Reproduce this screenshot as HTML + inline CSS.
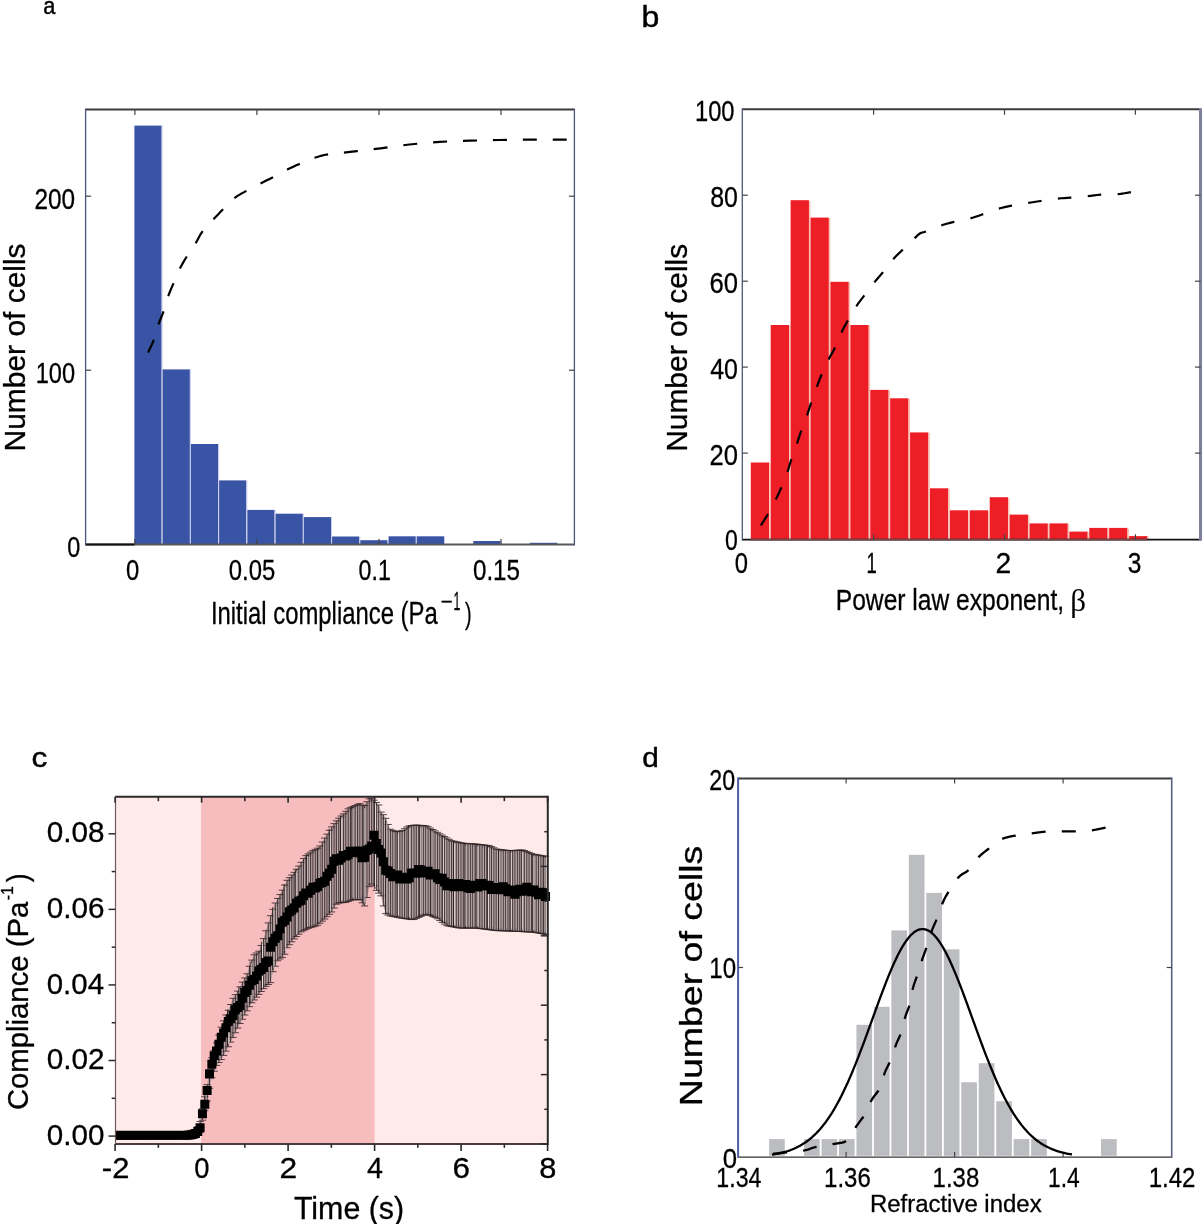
<!DOCTYPE html>
<html><head><meta charset="utf-8"><title>Figure</title>
<style>html,body{margin:0;padding:0;background:#fff;}svg{display:block;will-change:transform;}text{stroke:#000;stroke-width:0.3px;}</style>
</head><body>
<svg width="1202" height="1224" viewBox="0 0 1202 1224">
<text transform="translate(43.18,14.46) scale(0.9185,1)" font-family='"Liberation Sans", sans-serif' font-size="23.72" fill="#000" style="stroke:#000;stroke-width:0.45px">a</text>
<text transform="translate(641.52,26.71) scale(1.1015,1)" font-family='"Liberation Sans", sans-serif' font-size="29.12" fill="#000" style="stroke:#000;stroke-width:0.45px">b</text>
<text transform="translate(31.57,766.73) scale(1.1822,1)" font-family='"Liberation Sans", sans-serif' font-size="26.82" fill="#000" style="stroke:#000;stroke-width:0.45px">c</text>
<text transform="translate(642.15,767.12) scale(1.0472,1)" font-family='"Liberation Sans", sans-serif' font-size="28.44" fill="#000" style="stroke:#000;stroke-width:0.45px">d</text>
<rect x="134.4" y="125.6" width="27.24" height="418.9" fill="#3a54a5"/>
<line x1="162.14" y1="125.6" x2="162.14" y2="544.5" stroke="#c9cdee" stroke-width="1"/>
<rect x="162.64" y="369.4" width="27.24" height="175.1" fill="#3a54a5"/>
<line x1="190.38" y1="369.4" x2="190.38" y2="544.5" stroke="#c9cdee" stroke-width="1"/>
<rect x="190.88" y="444" width="27.24" height="100.5" fill="#3a54a5"/>
<line x1="218.62" y1="444" x2="218.62" y2="544.5" stroke="#c9cdee" stroke-width="1"/>
<rect x="219.12" y="480.4" width="27.24" height="64.1" fill="#3a54a5"/>
<line x1="246.86" y1="480.4" x2="246.86" y2="544.5" stroke="#c9cdee" stroke-width="1"/>
<rect x="247.36" y="509.9" width="27.24" height="34.6" fill="#3a54a5"/>
<line x1="275.1" y1="509.9" x2="275.1" y2="544.5" stroke="#c9cdee" stroke-width="1"/>
<rect x="275.6" y="513.7" width="27.24" height="30.8" fill="#3a54a5"/>
<line x1="303.34" y1="513.7" x2="303.34" y2="544.5" stroke="#c9cdee" stroke-width="1"/>
<rect x="303.84" y="517.1" width="27.24" height="27.4" fill="#3a54a5"/>
<line x1="331.58" y1="517.1" x2="331.58" y2="544.5" stroke="#c9cdee" stroke-width="1"/>
<rect x="332.08" y="536.5" width="27.24" height="8" fill="#3a54a5"/>
<line x1="359.82" y1="536.5" x2="359.82" y2="544.5" stroke="#c9cdee" stroke-width="1"/>
<rect x="360.32" y="540.2" width="27.24" height="4.3" fill="#3a54a5"/>
<line x1="388.06" y1="540.2" x2="388.06" y2="544.5" stroke="#c9cdee" stroke-width="1"/>
<rect x="388.56" y="536.3" width="27.24" height="8.2" fill="#3a54a5"/>
<line x1="416.3" y1="536.3" x2="416.3" y2="544.5" stroke="#c9cdee" stroke-width="1"/>
<rect x="416.8" y="536.3" width="27.24" height="8.2" fill="#3a54a5"/>
<line x1="444.54" y1="536.3" x2="444.54" y2="544.5" stroke="#c9cdee" stroke-width="1"/>
<rect x="473.28" y="541" width="27.24" height="3.5" fill="#3a54a5"/>
<line x1="501.02" y1="541" x2="501.02" y2="544.5" stroke="#c9cdee" stroke-width="1"/>
<rect x="529.76" y="542.8" width="27.24" height="1.7" fill="#3a54a5"/>
<line x1="557.5" y1="542.8" x2="557.5" y2="544.5" stroke="#c9cdee" stroke-width="1"/>
<line x1="85.6" y1="109.5" x2="574.4" y2="109.5" stroke="#3c3c3c" stroke-width="2"/>
<line x1="85.6" y1="544.5" x2="574.4" y2="544.5" stroke="#58585e" stroke-width="2"/>
<line x1="85.6" y1="544.5" x2="134.4" y2="544.5" stroke="#111" stroke-width="2"/>
<line x1="85.6" y1="108.5" x2="85.6" y2="545.5" stroke="#4b5680" stroke-width="1.3"/>
<line x1="574.4" y1="108.5" x2="574.4" y2="545.5" stroke="#4b5680" stroke-width="1.3"/>
<line x1="134.9" y1="109.5" x2="134.9" y2="115" stroke="#444" stroke-width="1.2"/>
<line x1="134.9" y1="544.5" x2="134.9" y2="539" stroke="#444" stroke-width="1.2"/>
<line x1="256.9" y1="109.5" x2="256.9" y2="115" stroke="#444" stroke-width="1.2"/>
<line x1="256.9" y1="544.5" x2="256.9" y2="539" stroke="#444" stroke-width="1.2"/>
<line x1="379" y1="109.5" x2="379" y2="115" stroke="#444" stroke-width="1.2"/>
<line x1="379" y1="544.5" x2="379" y2="539" stroke="#444" stroke-width="1.2"/>
<line x1="501" y1="109.5" x2="501" y2="115" stroke="#444" stroke-width="1.2"/>
<line x1="501" y1="544.5" x2="501" y2="539" stroke="#444" stroke-width="1.2"/>
<line x1="85.6" y1="196.2" x2="91.1" y2="196.2" stroke="#444" stroke-width="1.2"/>
<line x1="574.4" y1="196.2" x2="568.9" y2="196.2" stroke="#444" stroke-width="1.2"/>
<line x1="85.6" y1="370.2" x2="91.1" y2="370.2" stroke="#444" stroke-width="1.2"/>
<line x1="574.4" y1="370.2" x2="568.9" y2="370.2" stroke="#444" stroke-width="1.2"/>
<path d="M148 352.4 L149 350.39 L150.43 347.52 L152.02 344.15 L153.5 340.6 L154.8 336.75 L156.08 332.49 L157.33 328.18 L158.6 324.2 L159.88 320.72 L161.17 317.53 L162.45 314.37 L163.7 311 L164.88 307.28 L166.02 303.36 L167.18 299.43 L168.4 295.7 L169.71 292.23 L171.09 288.92 L172.49 285.68 L173.9 282.4 L175.27 279.07 L176.62 275.75 L178.04 272.43 L179.6 269.1 L181.35 265.75 L183.24 262.38 L185.21 259.05 L187.2 255.8 L189.23 252.68 L191.33 249.64 L193.41 246.63 L195.4 243.6 L197.18 240.51 L198.83 237.39 L200.53 234.3 L202.5 231.3 L204.82 228.43 L207.37 225.64 L210.04 222.88 L212.7 220.1 L215.36 217.27 L218.07 214.41 L220.79 211.58 L223.5 208.8 L226.15 206.02 L228.76 203.25 L231.42 200.6 L234.2 198.2 L237.12 196.14 L240.14 194.32 L243.24 192.63 L246.4 190.9 L249.65 189.12 L252.98 187.36 L256.35 185.62 L259.7 183.9 L263 182.22 L266.29 180.59 L269.6 178.93 L273 177.2 L276.55 175.32 L280.22 173.34 L283.85 171.39 L287.3 169.6 L290.43 168.05 L293.34 166.66 L296.28 165.31 L299.5 163.9 L303.15 162.34 L307.08 160.71 L311.04 159.15 L314.8 157.8 L318.06 156.72 L321.04 155.82 L324.22 155.04 L328.1 154.3 L332.77 153.65 L337.98 153.1 L343.73 152.55 L350 151.9 L357.03 151.11 L364.75 150.24 L372.69 149.33 L380.4 148.4 L387.74 147.42 L394.96 146.39 L402.17 145.39 L409.5 144.5 L416.99 143.73 L424.58 143.03 L432.2 142.42 L439.8 141.9 L447.38 141.49 L454.97 141.18 L462.52 140.93 L470 140.7 L477.35 140.48 L484.6 140.3 L491.85 140.14 L499.2 140 L506.51 139.87 L513.79 139.76 L521.33 139.66 L529.4 139.6 L539.1 139.57 L549.94 139.57 L559.83 139.59 L566.7 139.6" fill="none" stroke="#000" stroke-width="2.2" stroke-dasharray="14.00 15.93" stroke-linejoin="round"/>
<text transform="translate(34.48,208.7) scale(0.8220,1)" font-family='"Liberation Sans", sans-serif' font-size="29.66" fill="#000">200</text>
<text transform="translate(35.7,383.3) scale(0.7892,1)" font-family='"Liberation Sans", sans-serif' font-size="29.94" fill="#000">100</text>
<text transform="translate(67.19,557.3) scale(0.7862,1)" font-family='"Liberation Sans", sans-serif' font-size="29.8" fill="#000">0</text>
<text transform="translate(125.97,580.3) scale(0.8041,1)" font-family='"Liberation Sans", sans-serif' font-size="29.66" fill="#000">0</text>
<text transform="translate(228.77,580.3) scale(0.8044,1)" font-family='"Liberation Sans", sans-serif' font-size="29.66" fill="#000">0.05</text>
<text transform="translate(358.6,580.3) scale(0.7820,1)" font-family='"Liberation Sans", sans-serif' font-size="29.66" fill="#000">0.1</text>
<text transform="translate(472.96,580.3) scale(0.8153,1)" font-family='"Liberation Sans", sans-serif' font-size="29.66" fill="#000">0.15</text>
<text transform="translate(210.9,623.5) scale(0.7748,1)" font-family='"Liberation Sans", sans-serif' font-size="30.81" fill="#000">Initial compliance (Pa</text>
<text transform="translate(440.7,608.89) scale(0.9039,1)" font-family='"Liberation Sans", sans-serif' font-size="22.54" fill="#000">−</text>
<text transform="translate(453.47,610.1) scale(0.4780,1)" font-family='"Liberation Sans", sans-serif' font-size="25.73" fill="#000">1</text>
<text transform="translate(464.88,623.54) scale(0.6828,1)" font-family='"Liberation Sans", sans-serif' font-size="29.29" fill="#000">)</text>
<text transform="translate(24.9,451.46) rotate(-90) scale(0.9987,1)" font-family='"Liberation Sans", sans-serif' font-size="30" fill="#000">Number of cells</text>
<rect x="750.8" y="462.5" width="18.31" height="77.2" fill="#ee1e27"/>
<line x1="769.91" y1="463" x2="769.91" y2="539.7" stroke="#f6c4b4" stroke-width="1.4"/>
<rect x="770.71" y="325" width="18.31" height="214.7" fill="#ee1e27"/>
<line x1="789.82" y1="325.5" x2="789.82" y2="539.7" stroke="#f6c4b4" stroke-width="1.4"/>
<rect x="790.62" y="200.2" width="18.31" height="339.5" fill="#ee1e27"/>
<line x1="809.73" y1="200.7" x2="809.73" y2="539.7" stroke="#f6c4b4" stroke-width="1.4"/>
<rect x="810.53" y="217.6" width="18.31" height="322.1" fill="#ee1e27"/>
<line x1="829.64" y1="218.1" x2="829.64" y2="539.7" stroke="#f6c4b4" stroke-width="1.4"/>
<rect x="830.44" y="281.8" width="18.31" height="257.9" fill="#ee1e27"/>
<line x1="849.55" y1="282.3" x2="849.55" y2="539.7" stroke="#f6c4b4" stroke-width="1.4"/>
<rect x="850.35" y="325" width="18.31" height="214.7" fill="#ee1e27"/>
<line x1="869.46" y1="325.5" x2="869.46" y2="539.7" stroke="#f6c4b4" stroke-width="1.4"/>
<rect x="870.26" y="389.9" width="18.31" height="149.8" fill="#ee1e27"/>
<line x1="889.37" y1="390.4" x2="889.37" y2="539.7" stroke="#f6c4b4" stroke-width="1.4"/>
<rect x="890.17" y="398.3" width="18.31" height="141.4" fill="#ee1e27"/>
<line x1="909.28" y1="398.8" x2="909.28" y2="539.7" stroke="#f6c4b4" stroke-width="1.4"/>
<rect x="910.08" y="432.4" width="18.31" height="107.3" fill="#ee1e27"/>
<line x1="929.19" y1="432.9" x2="929.19" y2="539.7" stroke="#f6c4b4" stroke-width="1.4"/>
<rect x="929.99" y="488.3" width="18.31" height="51.4" fill="#ee1e27"/>
<line x1="949.1" y1="488.8" x2="949.1" y2="539.7" stroke="#f6c4b4" stroke-width="1.4"/>
<rect x="949.9" y="510.3" width="18.31" height="29.4" fill="#ee1e27"/>
<line x1="969.01" y1="510.8" x2="969.01" y2="539.7" stroke="#f6c4b4" stroke-width="1.4"/>
<rect x="969.81" y="510.3" width="18.31" height="29.4" fill="#ee1e27"/>
<line x1="988.92" y1="510.8" x2="988.92" y2="539.7" stroke="#f6c4b4" stroke-width="1.4"/>
<rect x="989.72" y="497.2" width="18.31" height="42.5" fill="#ee1e27"/>
<line x1="1008.83" y1="497.7" x2="1008.83" y2="539.7" stroke="#f6c4b4" stroke-width="1.4"/>
<rect x="1009.63" y="514.6" width="18.31" height="25.1" fill="#ee1e27"/>
<line x1="1028.74" y1="515.1" x2="1028.74" y2="539.7" stroke="#f6c4b4" stroke-width="1.4"/>
<rect x="1029.54" y="523.4" width="18.31" height="16.3" fill="#ee1e27"/>
<line x1="1048.65" y1="523.9" x2="1048.65" y2="539.7" stroke="#f6c4b4" stroke-width="1.4"/>
<rect x="1049.45" y="523.4" width="18.31" height="16.3" fill="#ee1e27"/>
<line x1="1068.56" y1="523.9" x2="1068.56" y2="539.7" stroke="#f6c4b4" stroke-width="1.4"/>
<rect x="1069.36" y="531.6" width="18.31" height="8.1" fill="#ee1e27"/>
<line x1="1088.47" y1="532.1" x2="1088.47" y2="539.7" stroke="#f6c4b4" stroke-width="1.4"/>
<rect x="1089.27" y="527.9" width="18.31" height="11.8" fill="#ee1e27"/>
<line x1="1108.38" y1="528.4" x2="1108.38" y2="539.7" stroke="#f6c4b4" stroke-width="1.4"/>
<rect x="1109.18" y="527.9" width="18.31" height="11.8" fill="#ee1e27"/>
<line x1="1128.29" y1="528.4" x2="1128.29" y2="539.7" stroke="#f6c4b4" stroke-width="1.4"/>
<rect x="1129.09" y="536.1" width="18.31" height="3.6" fill="#ee1e27"/>
<line x1="1148.2" y1="536.6" x2="1148.2" y2="539.7" stroke="#f6c4b4" stroke-width="1.4"/>
<line x1="742.3" y1="109.3" x2="1200.5" y2="109.3" stroke="#3c3c3c" stroke-width="2"/>
<line x1="742.3" y1="539.7" x2="1200.5" y2="539.7" stroke="#111" stroke-width="1.8"/>
<line x1="750.8" y1="539.7" x2="1147" y2="539.7" stroke="#7a4848" stroke-width="1.8"/>
<line x1="742.3" y1="108.3" x2="742.3" y2="540.7" stroke="#4b5680" stroke-width="1.3"/>
<line x1="1200.5" y1="108.3" x2="1200.5" y2="540.7" stroke="#7d809a" stroke-width="3"/>
<line x1="873.6" y1="109.3" x2="873.6" y2="114.8" stroke="#444" stroke-width="1.2"/>
<line x1="873.6" y1="539.7" x2="873.6" y2="534.2" stroke="#444" stroke-width="1.2"/>
<line x1="1004.5" y1="109.3" x2="1004.5" y2="114.8" stroke="#444" stroke-width="1.2"/>
<line x1="1004.5" y1="539.7" x2="1004.5" y2="534.2" stroke="#444" stroke-width="1.2"/>
<line x1="1135.4" y1="109.3" x2="1135.4" y2="114.8" stroke="#444" stroke-width="1.2"/>
<line x1="1135.4" y1="539.7" x2="1135.4" y2="534.2" stroke="#444" stroke-width="1.2"/>
<line x1="742.3" y1="195.2" x2="747.8" y2="195.2" stroke="#444" stroke-width="1.2"/>
<line x1="1200.5" y1="195.2" x2="1195" y2="195.2" stroke="#444" stroke-width="1.2"/>
<line x1="742.3" y1="281.2" x2="747.8" y2="281.2" stroke="#444" stroke-width="1.2"/>
<line x1="1200.5" y1="281.2" x2="1195" y2="281.2" stroke="#444" stroke-width="1.2"/>
<line x1="742.3" y1="367.1" x2="747.8" y2="367.1" stroke="#444" stroke-width="1.2"/>
<line x1="1200.5" y1="367.1" x2="1195" y2="367.1" stroke="#444" stroke-width="1.2"/>
<line x1="742.3" y1="453.1" x2="747.8" y2="453.1" stroke="#444" stroke-width="1.2"/>
<line x1="1200.5" y1="453.1" x2="1195" y2="453.1" stroke="#444" stroke-width="1.2"/>
<path d="M760.8 525.5 L762 523.65 L763.71 521.02 L765.66 517.93 L767.6 514.7 L769.54 511.25 L771.61 507.47 L773.64 503.63 L775.5 500 L777.12 496.73 L778.58 493.66 L779.97 490.58 L781.4 487.3 L782.92 483.7 L784.47 479.9 L785.97 476.1 L787.3 472.5 L788.37 469.27 L789.25 466.27 L790.13 463.21 L791.2 459.8 L792.58 455.79 L794.15 451.39 L795.72 447.02 L797.1 443.1 L798.17 439.92 L799.05 437.19 L799.93 434.49 L801 431.4 L802.38 427.66 L803.95 423.56 L805.52 419.44 L806.9 415.7 L807.97 412.59 L808.85 409.86 L809.73 407.1 L810.8 403.9 L812.16 400 L813.69 395.66 L815.25 391.3 L816.7 387.3 L817.95 383.88 L819.09 380.78 L820.26 377.74 L821.6 374.5 L823.16 370.91 L824.88 367.14 L826.65 363.38 L828.4 359.8 L830.14 356.51 L831.91 353.39 L833.64 350.31 L835.3 347.1 L836.87 343.63 L838.38 340 L839.83 336.47 L841.2 333.3 L842.36 330.8 L843.34 328.75 L844.46 326.6 L846 323.8 L848.18 319.94 L850.8 315.39 L853.52 310.8 L856 306.8 L858.09 303.68 L860 301.05 L861.91 298.55 L864 295.8 L866.39 292.63 L868.94 289.27 L871.53 285.92 L874 282.8 L876.28 280.05 L878.45 277.54 L880.62 275.03 L882.9 272.3 L885.32 269.2 L887.83 265.87 L890.37 262.56 L892.9 259.5 L895.38 256.82 L897.84 254.36 L900.33 251.98 L902.9 249.5 L905.7 246.77 L908.65 243.91 L911.48 241.2 L913.9 238.9 L915.75 237.1 L917.21 235.66 L918.52 234.49 L919.9 233.5 L921.21 232.85 L922.41 232.51 L923.84 232.17 L925.9 231.5 L928.82 230.32 L932.35 228.82 L936.13 227.27 L939.8 225.9 L943.25 224.77 L946.67 223.76 L950.16 222.82 L953.8 221.9 L957.73 221.03 L961.86 220.21 L965.96 219.39 L969.8 218.5 L973.22 217.53 L976.37 216.52 L979.49 215.45 L982.8 214.3 L986.41 213.01 L990.19 211.6 L993.99 210.22 L997.7 209 L1001.22 208 L1004.63 207.13 L1008.08 206.35 L1011.7 205.6 L1015.63 204.88 L1019.76 204.21 L1023.86 203.59 L1027.7 203 L1031.07 202.47 L1034.14 201.99 L1037.25 201.51 L1040.7 201 L1044.74 200.4 L1049.15 199.74 L1053.56 199.11 L1057.6 198.6 L1061.04 198.26 L1064.11 198.04 L1067.18 197.85 L1070.6 197.6 L1074.59 197.28 L1078.93 196.93 L1083.28 196.57 L1087.3 196.2 L1090.81 195.81 L1094.01 195.39 L1097.18 195 L1100.6 194.7 L1104.4 194.56 L1108.42 194.54 L1112.48 194.49 L1116.4 194.3 L1120.46 193.85 L1124.64 193.23 L1128.33 192.62 L1130.9 192.2" fill="none" stroke="#000" stroke-width="2.2" stroke-dasharray="13.50 16.48" stroke-linejoin="round"/>
<text transform="translate(695,121.41) scale(0.8144,1)" font-family='"Liberation Sans", sans-serif' font-size="29.1" fill="#000">100</text>
<text transform="translate(710.13,206.9) scale(0.8255,1)" font-family='"Liberation Sans", sans-serif' font-size="30.23" fill="#000">80</text>
<text transform="translate(709.39,293) scale(0.8481,1)" font-family='"Liberation Sans", sans-serif' font-size="30.23" fill="#000">60</text>
<text transform="translate(710.13,378.9) scale(0.8255,1)" font-family='"Liberation Sans", sans-serif' font-size="30.23" fill="#000">40</text>
<text transform="translate(709.42,464.9) scale(0.8473,1)" font-family='"Liberation Sans", sans-serif' font-size="30.23" fill="#000">20</text>
<text transform="translate(725.1,550.3) scale(0.7759,1)" font-family='"Liberation Sans", sans-serif' font-size="29.66" fill="#000">0</text>
<text transform="translate(734.67,572.7) scale(0.8041,1)" font-family='"Liberation Sans", sans-serif' font-size="29.66" fill="#000">0</text>
<text transform="translate(866.39,572.7) scale(0.6258,1)" font-family='"Liberation Sans", sans-serif' font-size="29.66" fill="#000">1</text>
<text transform="translate(995.59,572.7) scale(0.9538,1)" font-family='"Liberation Sans", sans-serif' font-size="29.66" fill="#000">2</text>
<text transform="translate(1127.77,572.7) scale(0.8251,1)" font-family='"Liberation Sans", sans-serif' font-size="29.66" fill="#000">3</text>
<text transform="translate(835.78,609.9) scale(0.8465,1)" font-family='"Liberation Sans", sans-serif' font-size="29.07" fill="#000">Power law exponent,</text>
<text transform="translate(1070.31,610.61) scale(0.9901,1)" font-family='"Liberation Serif", serif' font-size="31.41" fill="#000" style="stroke-width:0">β</text>
<text transform="translate(686.8,451.86) rotate(-90) scale(0.9987,1)" font-family='"Liberation Sans", sans-serif' font-size="30" fill="#000">Number of cells</text>
<rect x="115.5" y="796.7" width="432.3" height="347.3" fill="#feeae8"/>
<rect x="201.1" y="796.7" width="173.5" height="347.3" fill="#f7bcbe"/>
<clipPath id="clipc"><rect x="115.5" y="788.7" width="436.3" height="355.3"/></clipPath>
<g clip-path="url(#clipc)">
<path d="M115.5 1133.2 L117.85 1133.19 L120.2 1133.19 L122.55 1133.18 L124.9 1133.17 L127.25 1133.17 L129.6 1133.16 L131.95 1133.16 L134.3 1133.15 L136.65 1133.14 L139 1133.14 L141.35 1133.13 L143.7 1133.12 L146.05 1133.12 L148.4 1133.11 L150.75 1133.11 L153.1 1133.1 L155.45 1133.09 L157.8 1133.09 L160.15 1133.08 L162.5 1133.07 L164.85 1133.07 L167.2 1133.06 L169.55 1133.05 L171.9 1133.05 L174.25 1133.04 L176.6 1133.04 L178.95 1133.03 L181.3 1133.02 L183.65 1133.02 L186 1133.01 L188.35 1133 L190.7 1132.65 L193.05 1131.48 L195.4 1130.3 L197.75 1126.5 L200.1 1121.45 L202.45 1108.71 L204.8 1096.78 L207.15 1084.64 L209.5 1069.64 L211.85 1057.71 L214.2 1050.3 L216.55 1042.82 L218.9 1035.1 L221.25 1027.2 L223.6 1020.83 L225.95 1014.98 L228.3 1010.22 L230.65 1004.53 L233 998.27 L235.35 994.65 L237.7 991.14 L240.05 986.8 L242.4 982.12 L244.75 977.97 L247.1 973.81 L249.45 966.28 L251.8 960.09 L254.15 954.76 L256.5 953 L258.85 951.24 L261.2 945.49 L263.55 938.63 L265.9 930.77 L268.25 922.91 L270.6 915.7 L272.95 909.36 L275.3 903.02 L277.65 898.48 L280 894.57 L282.35 890.13 L284.7 885.03 L287.05 880.31 L289.4 877.66 L291.75 875.02 L294.1 872.33 L296.45 869.2 L298.8 866.07 L301.15 862.35 L303.5 858.48 L305.85 855.64 L308.2 853.87 L310.55 852.11 L312.9 850.59 L315.25 849.4 L317.6 848.21 L319.95 845.92 L322.3 842 L324.65 838.08 L327 834.17 L329.35 830.25 L331.7 826.85 L334.05 823.66 L336.4 820.84 L338.75 818.2 L341.1 816.02 L343.45 813.85 L345.8 811.3 L348.15 808.82 L350.5 807.65 L352.85 806.47 L355.2 805.43 L357.55 804.42 L359.9 803.62 L362.25 805.03 L364.6 805.56 L366.95 801.8 L369.3 798.85 L371.65 798.24 L374 800.17 L376.35 802.49 L378.7 805 L381.05 812.05 L383.4 814.7 L385.75 818.32 L388.1 824.5 L390.45 829.25 L392.8 830.39 L395.15 831.3 L397.5 831.3 L399.85 831.3 L402.2 830.42 L404.55 828.69 L406.9 826.96 L409.25 825.85 L411.6 825.5 L413.95 825.15 L416.3 825.09 L418.65 825.25 L421 825.41 L423.35 825.58 L425.7 825.74 L428.05 826.67 L430.4 828.09 L432.75 829.5 L435.1 830.92 L437.45 832.34 L439.8 833.75 L442.15 835.17 L444.5 836.57 L446.85 837.95 L449.2 839.34 L451.55 840.71 L453.9 841.21 L456.25 841.71 L458.6 842.22 L460.95 842.72 L463.3 843.21 L465.65 843.37 L468 843.52 L470.35 843.68 L472.7 843.84 L475.05 844 L477.4 844.21 L479.75 844.49 L482.1 844.77 L484.45 845.06 L486.8 845.34 L489.15 845.62 L491.5 846.58 L493.85 847.79 L496.2 849 L498.55 849.36 L500.9 849.64 L503.25 849.92 L505.6 850.2 L507.95 850.48 L510.3 850.67 L512.65 850.53 L515 850.39 L517.35 850.25 L519.7 850.1 L522.05 849.96 L524.4 850.45 L526.75 851.45 L529.1 852.45 L531.45 853.44 L533.8 854.24 L536.15 854.64 L538.5 855.04 L540.85 855.44 L543.2 855.85 L545.55 856.25 L545.55 934.4 L543.2 933.95 L540.85 933.49 L538.5 933.04 L536.15 932.58 L533.8 932.25 L531.45 932.12 L529.1 932 L526.75 931.87 L524.4 931.74 L522.05 931.61 L519.7 931.49 L517.35 931.37 L515 931.29 L512.65 931.2 L510.3 931.11 L507.95 931.03 L505.6 930.94 L503.25 930.85 L500.9 930.77 L498.55 930.68 L496.2 930.57 L493.85 930.28 L491.5 929.98 L489.15 929.69 L486.8 929.39 L484.45 929.1 L482.1 928.8 L479.75 928.51 L477.4 928.21 L475.05 928.1 L472.7 928.1 L470.35 928.1 L468 928.1 L465.65 928.1 L463.3 928.1 L460.95 928.1 L458.6 927.87 L456.25 927.43 L453.9 926.99 L451.55 926.55 L449.2 926.11 L446.85 925.67 L444.5 924.1 L442.15 922.34 L439.8 920.58 L437.45 918.81 L435.1 917.52 L432.75 916.55 L430.4 915.57 L428.05 914.6 L425.7 914.39 L423.35 915.41 L421 916.42 L418.65 917.44 L416.3 918.46 L413.95 919.48 L411.6 919.57 L409.25 919.22 L406.9 918.88 L404.55 918.53 L402.2 918.19 L399.85 917.76 L397.5 917.31 L395.15 916.86 L392.8 916.4 L390.45 915.96 L388.1 915.07 L385.75 913.58 L383.4 905.9 L381.05 895.83 L378.7 893.12 L376.35 890.4 L374 885.74 L371.65 884.12 L369.3 886.68 L366.95 897.51 L364.6 905.96 L362.25 902.82 L359.9 899.8 L357.55 899.73 L355.2 899.66 L352.85 899.73 L350.5 900.61 L348.15 901.49 L345.8 902.32 L343.45 902.55 L341.1 902.79 L338.75 903.02 L336.4 904.19 L334.05 908.06 L331.7 911.94 L329.35 914.35 L327 916.7 L324.65 919.05 L322.3 921.14 L319.95 923.19 L317.6 925.25 L315.25 926.19 L312.9 926.9 L310.55 927.62 L308.2 928.35 L305.85 929.52 L303.5 930.7 L301.15 931.87 L298.8 934.2 L296.45 936.55 L294.1 938.9 L291.75 941.79 L289.4 944.73 L287.05 947.66 L284.7 954.25 L282.35 957.33 L280 958.98 L277.65 960.72 L275.3 966.2 L272.95 971.68 L270.6 982.62 L268.25 984.5 L265.9 986.38 L263.55 988.65 L261.2 991.51 L258.85 994.37 L256.5 997.17 L254.15 999.95 L251.8 1002.73 L249.45 1006.65 L247.1 1010.81 L244.75 1015.01 L242.4 1019.24 L240.05 1023.47 L237.7 1028.07 L235.35 1032.73 L233 1037.4 L230.65 1042.1 L228.3 1046.8 L225.95 1051.14 L223.6 1055.41 L221.25 1059.59 L218.9 1062.51 L216.55 1065.44 L214.2 1071.22 L211.85 1077.67 L209.5 1088.25 L207.15 1101.18 L204.8 1110.8 L202.45 1120.2 L200.1 1132.45 L197.75 1135.53 L195.4 1137.65 L193.05 1138.24 L190.7 1138.83 L188.35 1139 L186 1139.01 L183.65 1139.02 L181.3 1139.02 L178.95 1139.03 L176.6 1139.04 L174.25 1139.04 L171.9 1139.05 L169.55 1139.05 L167.2 1139.06 L164.85 1139.07 L162.5 1139.07 L160.15 1139.08 L157.8 1139.09 L155.45 1139.09 L153.1 1139.1 L150.75 1139.11 L148.4 1139.11 L146.05 1139.12 L143.7 1139.12 L141.35 1139.13 L139 1139.14 L136.65 1139.14 L134.3 1139.15 L131.95 1139.16 L129.6 1139.16 L127.25 1139.17 L124.9 1139.17 L122.55 1139.18 L120.2 1139.19 L117.85 1139.19 L115.5 1139.2 Z" fill="#a08f91" fill-opacity="0.85"/>
<path d="M111.9 1133.2H119.1M111.9 1139.2H119.1M114.25 1133.19H121.45M114.25 1139.19H121.45M116.6 1133.19H123.8M116.6 1139.19H123.8M118.95 1133.18H126.15M118.95 1139.18H126.15M121.3 1133.17H128.5M121.3 1139.17H128.5M123.65 1133.17H130.85M123.65 1139.17H130.85M126 1133.16H133.2M126 1139.16H133.2M128.35 1133.16H135.55M128.35 1139.16H135.55M130.7 1133.15H137.9M130.7 1139.15H137.9M133.05 1133.14H140.25M133.05 1139.14H140.25M135.4 1133.14H142.6M135.4 1139.14H142.6M137.75 1133.13H144.95M137.75 1139.13H144.95M140.1 1133.12H147.3M140.1 1139.12H147.3M142.45 1133.12H149.65M142.45 1139.12H149.65M144.8 1133.11H152M144.8 1139.11H152M147.15 1133.11H154.35M147.15 1139.11H154.35M149.5 1133.1H156.7M149.5 1139.1H156.7M151.85 1133.09H159.05M151.85 1139.09H159.05M154.2 1133.09H161.4M154.2 1139.09H161.4M156.55 1133.08H163.75M156.55 1139.08H163.75M158.9 1133.07H166.1M158.9 1139.07H166.1M161.25 1133.07H168.45M161.25 1139.07H168.45M163.6 1133.06H170.8M163.6 1139.06H170.8M165.95 1133.05H173.15M165.95 1139.05H173.15M168.3 1133.05H175.5M168.3 1139.05H175.5M170.65 1133.04H177.85M170.65 1139.04H177.85M173 1133.04H180.2M173 1139.04H180.2M175.35 1133.03H182.55M175.35 1139.03H182.55M177.7 1133.02H184.9M177.7 1139.02H184.9M180.05 1133.02H187.25M180.05 1139.02H187.25M182.4 1133.01H189.6M182.4 1139.01H189.6M184.75 1133H191.95M184.75 1139H191.95M187.1 1132.65H194.3M187.1 1138.83H194.3M189.45 1131.48H196.65M189.45 1138.24H196.65M191.8 1130.3H199M191.8 1137.65H199M194.15 1126.5H201.35M194.15 1135.53H201.35M200.1 1121.45V1132.45M196.5 1121.45H203.7M196.5 1132.45H203.7M202.45 1108.71V1120.2M198.85 1108.71H206.05M198.85 1120.2H206.05M204.8 1096.78V1110.8M201.2 1096.78H208.4M201.2 1110.8H208.4M207.15 1084.64V1101.18M203.55 1084.64H210.75M203.55 1101.18H210.75M209.5 1069.64V1088.25M205.9 1069.64H213.1M205.9 1088.25H213.1M211.85 1057.71V1077.67M208.25 1057.71H215.45M208.25 1077.67H215.45M214.2 1050.3V1071.22M210.6 1050.3H217.8M210.6 1071.22H217.8M216.55 1042.82V1065.44M212.95 1042.82H220.15M212.95 1065.44H220.15M218.9 1035.1V1062.51M215.3 1035.1H222.5M215.3 1062.51H222.5M221.25 1027.2V1059.59M217.65 1027.2H224.85M217.65 1059.59H224.85M223.6 1020.83V1055.41M220 1020.83H227.2M220 1055.41H227.2M225.95 1014.98V1051.14M222.35 1014.98H229.55M222.35 1051.14H229.55M228.3 1010.22V1046.8M224.7 1010.22H231.9M224.7 1046.8H231.9M230.65 1004.53V1042.1M227.05 1004.53H234.25M227.05 1042.1H234.25M233 998.27V1037.4M229.4 998.27H236.6M229.4 1037.4H236.6M235.35 994.65V1032.73M231.75 994.65H238.95M231.75 1032.73H238.95M237.7 991.14V1028.07M234.1 991.14H241.3M234.1 1028.07H241.3M240.05 986.8V1023.47M236.45 986.8H243.65M236.45 1023.47H243.65M242.4 982.12V1019.24M238.8 982.12H246M238.8 1019.24H246M244.75 977.97V1015.01M241.15 977.97H248.35M241.15 1015.01H248.35M247.1 973.81V1010.81M243.5 973.81H250.7M243.5 1010.81H250.7M249.45 966.28V1006.65M245.85 966.28H253.05M245.85 1006.65H253.05M251.8 960.09V1002.73M248.2 960.09H255.4M248.2 1002.73H255.4M254.15 954.76V999.95M250.55 954.76H257.75M250.55 999.95H257.75M256.5 953V997.17M252.9 953H260.1M252.9 997.17H260.1M258.85 951.24V994.37M255.25 951.24H262.45M255.25 994.37H262.45M261.2 945.49V991.51M257.6 945.49H264.8M257.6 991.51H264.8M263.55 938.63V988.65M259.95 938.63H267.15M259.95 988.65H267.15M265.9 930.77V986.38M262.3 930.77H269.5M262.3 986.38H269.5M268.25 922.91V984.5M264.65 922.91H271.85M264.65 984.5H271.85M270.6 915.7V982.62M267 915.7H274.2M267 982.62H274.2M272.95 909.36V971.68M269.35 909.36H276.55M269.35 971.68H276.55M275.3 903.02V966.2M271.7 903.02H278.9M271.7 966.2H278.9M277.65 898.48V960.72M274.05 898.48H281.25M274.05 960.72H281.25M280 894.57V958.98M276.4 894.57H283.6M276.4 958.98H283.6M282.35 890.13V957.33M278.75 890.13H285.95M278.75 957.33H285.95M284.7 885.03V954.25M281.1 885.03H288.3M281.1 954.25H288.3M287.05 880.31V947.66M283.45 880.31H290.65M283.45 947.66H290.65M289.4 877.66V944.73M285.8 877.66H293M285.8 944.73H293M291.75 875.02V941.79M288.15 875.02H295.35M288.15 941.79H295.35M294.1 872.33V938.9M290.5 872.33H297.7M290.5 938.9H297.7M296.45 869.2V936.55M292.85 869.2H300.05M292.85 936.55H300.05M298.8 866.07V934.2M295.2 866.07H302.4M295.2 934.2H302.4M301.15 862.35V931.87M297.55 862.35H304.75M297.55 931.87H304.75M303.5 858.48V930.7M299.9 858.48H307.1M299.9 930.7H307.1M305.85 855.64V929.52M302.25 855.64H309.45M302.25 929.52H309.45M308.2 853.87V928.35M304.6 853.87H311.8M304.6 928.35H311.8M310.55 852.11V927.62M306.95 852.11H314.15M306.95 927.62H314.15M312.9 850.59V926.9M309.3 850.59H316.5M309.3 926.9H316.5M315.25 849.4V926.19M311.65 849.4H318.85M311.65 926.19H318.85M317.6 848.21V925.25M314 848.21H321.2M314 925.25H321.2M319.95 845.92V923.19M316.35 845.92H323.55M316.35 923.19H323.55M322.3 842V921.14M318.7 842H325.9M318.7 921.14H325.9M324.65 838.08V919.05M321.05 838.08H328.25M321.05 919.05H328.25M327 834.17V916.7M323.4 834.17H330.6M323.4 916.7H330.6M329.35 830.25V914.35M325.75 830.25H332.95M325.75 914.35H332.95M331.7 826.85V911.94M328.1 826.85H335.3M328.1 911.94H335.3M334.05 823.66V908.06M330.45 823.66H337.65M330.45 908.06H337.65M336.4 820.84V904.19M332.8 820.84H340M332.8 904.19H340M338.75 818.2V903.02M335.15 818.2H342.35M335.15 903.02H342.35M341.1 816.02V902.79M337.5 816.02H344.7M337.5 902.79H344.7M343.45 813.85V902.55M339.85 813.85H347.05M339.85 902.55H347.05M345.8 811.3V902.32M342.2 811.3H349.4M342.2 902.32H349.4M348.15 808.82V901.49M344.55 808.82H351.75M344.55 901.49H351.75M350.5 807.65V900.61M346.9 807.65H354.1M346.9 900.61H354.1M352.85 806.47V899.73M349.25 806.47H356.45M349.25 899.73H356.45M355.2 805.43V899.66M351.6 805.43H358.8M351.6 899.66H358.8M357.55 804.42V899.73M353.95 804.42H361.15M353.95 899.73H361.15M359.9 803.62V899.8M356.3 803.62H363.5M356.3 899.8H363.5M362.25 805.03V902.82M358.65 805.03H365.85M358.65 902.82H365.85M364.6 805.56V905.96M361 805.56H368.2M361 905.96H368.2M366.95 801.8V897.51M363.35 801.8H370.55M363.35 897.51H370.55M369.3 798.85V886.68M365.7 798.85H372.9M365.7 886.68H372.9M371.65 798.24V884.12M368.05 798.24H375.25M368.05 884.12H375.25M374 800.17V885.74M370.4 800.17H377.6M370.4 885.74H377.6M376.35 802.49V890.4M372.75 802.49H379.95M372.75 890.4H379.95M378.7 805V893.12M375.1 805H382.3M375.1 893.12H382.3M381.05 812.05V895.83M377.45 812.05H384.65M377.45 895.83H384.65M383.4 814.7V905.9M379.8 814.7H387M379.8 905.9H387M385.75 818.32V913.58M382.15 818.32H389.35M382.15 913.58H389.35M388.1 824.5V915.07M384.5 824.5H391.7M384.5 915.07H391.7M390.45 829.25V915.96M386.85 829.25H394.05M386.85 915.96H394.05M392.8 830.39V916.4M389.2 830.39H396.4M389.2 916.4H396.4M395.15 831.3V916.86M391.55 831.3H398.75M391.55 916.86H398.75M397.5 831.3V917.31M393.9 831.3H401.1M393.9 917.31H401.1M399.85 831.3V917.76M396.25 831.3H403.45M396.25 917.76H403.45M402.2 830.42V918.19M398.6 830.42H405.8M398.6 918.19H405.8M404.55 828.69V918.53M400.95 828.69H408.15M400.95 918.53H408.15M406.9 826.96V918.88M403.3 826.96H410.5M403.3 918.88H410.5M409.25 825.85V919.22M405.65 825.85H412.85M405.65 919.22H412.85M411.6 825.5V919.57M408 825.5H415.2M408 919.57H415.2M413.95 825.15V919.48M410.35 825.15H417.55M410.35 919.48H417.55M416.3 825.09V918.46M412.7 825.09H419.9M412.7 918.46H419.9M418.65 825.25V917.44M415.05 825.25H422.25M415.05 917.44H422.25M421 825.41V916.42M417.4 825.41H424.6M417.4 916.42H424.6M423.35 825.58V915.41M419.75 825.58H426.95M419.75 915.41H426.95M425.7 825.74V914.39M422.1 825.74H429.3M422.1 914.39H429.3M428.05 826.67V914.6M424.45 826.67H431.65M424.45 914.6H431.65M430.4 828.09V915.57M426.8 828.09H434M426.8 915.57H434M432.75 829.5V916.55M429.15 829.5H436.35M429.15 916.55H436.35M435.1 830.92V917.52M431.5 830.92H438.7M431.5 917.52H438.7M437.45 832.34V918.81M433.85 832.34H441.05M433.85 918.81H441.05M439.8 833.75V920.58M436.2 833.75H443.4M436.2 920.58H443.4M442.15 835.17V922.34M438.55 835.17H445.75M438.55 922.34H445.75M444.5 836.57V924.1M440.9 836.57H448.1M440.9 924.1H448.1M446.85 837.95V925.67M443.25 837.95H450.45M443.25 925.67H450.45M449.2 839.34V926.11M445.6 839.34H452.8M445.6 926.11H452.8M451.55 840.71V926.55M447.95 840.71H455.15M447.95 926.55H455.15M453.9 841.21V926.99M450.3 841.21H457.5M450.3 926.99H457.5M456.25 841.71V927.43M452.65 841.71H459.85M452.65 927.43H459.85M458.6 842.22V927.87M455 842.22H462.2M455 927.87H462.2M460.95 842.72V928.1M457.35 842.72H464.55M457.35 928.1H464.55M463.3 843.21V928.1M459.7 843.21H466.9M459.7 928.1H466.9M465.65 843.37V928.1M462.05 843.37H469.25M462.05 928.1H469.25M468 843.52V928.1M464.4 843.52H471.6M464.4 928.1H471.6M470.35 843.68V928.1M466.75 843.68H473.95M466.75 928.1H473.95M472.7 843.84V928.1M469.1 843.84H476.3M469.1 928.1H476.3M475.05 844V928.1M471.45 844H478.65M471.45 928.1H478.65M477.4 844.21V928.21M473.8 844.21H481M473.8 928.21H481M479.75 844.49V928.51M476.15 844.49H483.35M476.15 928.51H483.35M482.1 844.77V928.8M478.5 844.77H485.7M478.5 928.8H485.7M484.45 845.06V929.1M480.85 845.06H488.05M480.85 929.1H488.05M486.8 845.34V929.39M483.2 845.34H490.4M483.2 929.39H490.4M489.15 845.62V929.69M485.55 845.62H492.75M485.55 929.69H492.75M491.5 846.58V929.98M487.9 846.58H495.1M487.9 929.98H495.1M493.85 847.79V930.28M490.25 847.79H497.45M490.25 930.28H497.45M496.2 849V930.57M492.6 849H499.8M492.6 930.57H499.8M498.55 849.36V930.68M494.95 849.36H502.15M494.95 930.68H502.15M500.9 849.64V930.77M497.3 849.64H504.5M497.3 930.77H504.5M503.25 849.92V930.85M499.65 849.92H506.85M499.65 930.85H506.85M505.6 850.2V930.94M502 850.2H509.2M502 930.94H509.2M507.95 850.48V931.03M504.35 850.48H511.55M504.35 931.03H511.55M510.3 850.67V931.11M506.7 850.67H513.9M506.7 931.11H513.9M512.65 850.53V931.2M509.05 850.53H516.25M509.05 931.2H516.25M515 850.39V931.29M511.4 850.39H518.6M511.4 931.29H518.6M517.35 850.25V931.37M513.75 850.25H520.95M513.75 931.37H520.95M519.7 850.1V931.49M516.1 850.1H523.3M516.1 931.49H523.3M522.05 849.96V931.61M518.45 849.96H525.65M518.45 931.61H525.65M524.4 850.45V931.74M520.8 850.45H528M520.8 931.74H528M526.75 851.45V931.87M523.15 851.45H530.35M523.15 931.87H530.35M529.1 852.45V932M525.5 852.45H532.7M525.5 932H532.7M531.45 853.44V932.12M527.85 853.44H535.05M527.85 932.12H535.05M533.8 854.24V932.25M530.2 854.24H537.4M530.2 932.25H537.4M536.15 854.64V932.58M532.55 854.64H539.75M532.55 932.58H539.75M538.5 855.04V933.04M534.9 855.04H542.1M534.9 933.04H542.1M540.85 855.44V933.49M537.25 855.44H544.45M537.25 933.49H544.45M543.2 855.85V933.95M539.6 855.85H546.8M539.6 933.95H546.8M545.55 856.25V934.4M541.95 856.25H549.15M541.95 934.4H549.15" fill="none" stroke="#2e2224" stroke-width="0.9" stroke-opacity="0.9"/>
<path d="M210.7 1072.64V1085.25M215.4 1053.3V1068.22M220.1 1038.1V1059.51M224.8 1023.83V1052.41M229.5 1013.22V1043.8M234.2 1001.27V1034.4M238.9 994.14V1025.07M243.6 985.12V1016.24M248.3 976.81V1007.81M253 963.09V999.73M257.7 956V994.17M262.4 948.49V988.51M267.1 933.77V983.38M271.8 918.7V979.62M276.5 906.02V963.2M281.2 897.57V955.98M285.9 888.03V951.25M290.6 880.66V941.73M295.3 875.33V935.9M300 869.07V931.2M304.7 861.48V927.7M309.4 856.87V925.35M314.1 853.59V923.9M318.8 851.21V922.25M323.5 845V918.14M328.2 837.17V913.7M332.9 829.85V908.94M337.6 823.84V901.19M342.3 819.02V899.79M347 814.3V899.32M351.7 810.65V897.61M356.4 808.43V896.66M361.1 806.62V896.8M365.8 808.56V902.96M370.5 801.85V883.68M375.2 803.17V882.74M379.9 808V890.12M384.6 817.7V902.9M389.3 827.5V912.07M394 833.39V913.4M398.7 834.3V914.31M403.4 833.42V915.19M408.1 829.96V915.88M412.8 828.5V916.57M417.5 828.09V915.46M422.2 828.41V913.42M426.9 828.74V911.39M431.6 831.09V912.57M436.3 833.92V914.52M441 836.75V917.58M445.7 839.57V921.1M450.4 842.34V923.11M455.1 844.21V923.99M459.8 845.22V924.87M464.5 846.21V925.1M469.2 846.52V925.1M473.9 846.84V925.1M478.6 847.21V925.21M483.3 847.77V925.8M488 848.34V926.39M492.7 849.58V926.98M497.4 852V927.57M502.1 852.64V927.77M506.8 853.2V927.94M511.5 853.67V928.11M516.2 853.39V928.29M520.9 853.1V928.49M525.6 853.45V928.74M530.3 855.45V929M535 857.24V929.25M539.7 858.04V930.04M544.4 858.85V930.95" fill="none" stroke="#e8d6d7" stroke-width="0.6" stroke-opacity="0.5"/>
<path d="M206 1092.68V1104M217.3 1042.44V1062.51M228.6 1011.62V1044.2M239.9 989.1V1021.74M251.2 963.47V1001.55M262.5 943.79V987.93M273.8 909.07V967.7M285.1 886.17V951.02M296.4 871.27V934.6M307.7 856.25V926.6M319 849.5V922.02M330.3 830.8V911.4M341.6 817.56V900.74M352.9 808.45V897.71M364.2 808.2V903.43M375.5 803.73V886.94M386.8 822.77V912.24M398.1 833.3V915.43M409.4 827.82V917.24M420.7 827.39V914.55M432 831.05V914.24M443.3 837.86V921.2M454.6 843.36V925.12M465.9 845.38V926.1M477.2 846.18V926.19M488.5 847.54V927.61M499.8 851.51V928.73M511.1 852.62V929.14M522.4 851.94V929.63M533.7 856.22V930.25M545 858.15V932.3" fill="none" stroke="#fbeeee" stroke-width="1" stroke-opacity="0.75"/>
<path d="M204.9 1090.68V1106M216.2 1040.44V1064.51M227.5 1009.62V1046.2M238.8 987.1V1023.74M250.1 961.47V1003.55M261.4 941.79V989.93M272.7 907.07V969.7M284 884.17V953.02M295.3 869.27V936.6M306.6 854.25V928.6M317.9 847.5V924.02M329.2 828.8V913.4M340.5 815.56V902.74M351.8 806.45V899.71M363.1 806.2V905.43M374.4 801.73V888.94M385.7 820.77V914.24M397 831.3V917.43M408.3 825.82V919.24M419.6 825.39V916.55M430.9 829.05V916.24M442.2 835.86V923.2M453.5 841.36V927.12M464.8 843.38V928.1M476.1 844.18V928.19M487.4 845.54V929.61M498.7 849.51V930.73M510 850.62V931.14M521.3 849.94V931.63M532.6 854.22V932.25M543.9 856.15V934.3" fill="none" stroke="#1e1414" stroke-width="1" stroke-opacity="0.8"/>
<path d="M111 1130.7h9v9h-9ZM113.35 1130.7h9v9h-9ZM115.7 1130.7h9v9h-9ZM118.05 1130.7h9v9h-9ZM120.4 1130.7h9v9h-9ZM122.75 1130.7h9v9h-9ZM125.1 1130.7h9v9h-9ZM127.45 1130.7h9v9h-9ZM129.8 1130.7h9v9h-9ZM132.15 1130.7h9v9h-9ZM134.5 1130.7h9v9h-9ZM136.85 1130.7h9v9h-9ZM139.2 1130.7h9v9h-9ZM141.55 1130.7h9v9h-9ZM143.9 1130.7h9v9h-9ZM146.25 1130.7h9v9h-9ZM148.6 1130.7h9v9h-9ZM150.95 1130.7h9v9h-9ZM153.3 1130.7h9v9h-9ZM155.65 1130.7h9v9h-9ZM158 1130.7h9v9h-9ZM160.35 1130.7h9v9h-9ZM162.7 1130.7h9v9h-9ZM165.05 1130.7h9v9h-9ZM167.4 1130.7h9v9h-9ZM169.75 1130.7h9v9h-9ZM172.1 1130.7h9v9h-9ZM174.45 1130.7h9v9h-9ZM176.8 1130.7h9v9h-9ZM179.15 1130.7h9v9h-9ZM181.5 1130.64h9v9h-9ZM183.85 1130.5h9v9h-9ZM186.2 1130.25h9v9h-9ZM188.55 1129.73h9v9h-9ZM190.9 1128.98h9v9h-9ZM193.25 1127.1h9v9h-9ZM195.6 1123.15h9v9h-9ZM197.95 1109.33h9v9h-9ZM200.3 1099.82h9v9h-9ZM202.65 1085.94h9v9h-9ZM205 1069.46h9v9h-9ZM207.35 1059.85h9v9h-9ZM209.7 1051.31h9v9h-9ZM212.05 1046.45h9v9h-9ZM214.4 1039.85h9v9h-9ZM216.75 1032.86h9v9h-9ZM219.1 1028.48h9v9h-9ZM221.45 1023.18h9v9h-9ZM223.8 1016.94h9v9h-9ZM226.15 1014.32h9v9h-9ZM228.5 1010.91h9v9h-9ZM230.85 1005.3h9v9h-9ZM233.2 1003.04h9v9h-9ZM235.55 1000.95h9v9h-9ZM237.9 993.72h9v9h-9ZM240.25 988.02h9v9h-9ZM242.6 985.98h9v9h-9ZM244.95 980.87h9v9h-9ZM247.3 976.21h9v9h-9ZM249.65 974.93h9v9h-9ZM252 971.42h9v9h-9ZM254.35 966.42h9v9h-9ZM256.7 964.91h9v9h-9ZM259.05 962.94h9v9h-9ZM261.4 958.1h9v9h-9ZM263.75 956.5h9v9h-9ZM266.1 942.86h9v9h-9ZM268.45 937.32h9v9h-9ZM270.8 933.68h9v9h-9ZM273.15 931.18h9v9h-9ZM275.5 924.56h9v9h-9ZM277.85 917.8h9v9h-9ZM280.2 915.89h9v9h-9ZM282.55 912.39h9v9h-9ZM284.9 907.25h9v9h-9ZM287.25 905.61h9v9h-9ZM289.6 903.43h9v9h-9ZM291.95 898.67h9v9h-9ZM294.3 896.83h9v9h-9ZM296.65 895.79h9v9h-9ZM299 891.18h9v9h-9ZM301.35 888.54h9v9h-9ZM303.7 888.77h9v9h-9ZM306.05 885.81h9v9h-9ZM308.4 882.86h9v9h-9ZM310.75 883.38h9v9h-9ZM313.1 881.97h9v9h-9ZM315.45 878.63h9v9h-9ZM317.8 878.08h9v9h-9ZM320.15 876.66h9v9h-9ZM322.5 871.76h9v9h-9ZM324.85 868.77h9v9h-9ZM327.2 864.71h9v9h-9ZM329.55 856.63h9v9h-9ZM331.9 854.37h9v9h-9ZM334.25 855.75h9v9h-9ZM336.6 853.6h9v9h-9ZM338.95 851.06h9v9h-9ZM341.3 851.55h9v9h-9ZM343.65 850.08h9v9h-9ZM346 846.7h9v9h-9ZM348.35 846.88h9v9h-9ZM350.7 847.99h9v9h-9ZM353.05 846.39h9v9h-9ZM355.4 848.62h9v9h-9ZM357.75 853.2h9v9h-9ZM360.1 852.73h9v9h-9ZM362.45 845.82h9v9h-9ZM364.8 844.39h9v9h-9ZM367.15 841.6h9v9h-9ZM369.5 830.81h9v9h-9ZM371.85 839.07h9v9h-9ZM374.2 844.96h9v9h-9ZM376.55 848.57h9v9h-9ZM378.9 857.37h9v9h-9ZM381.25 865.76h9v9h-9ZM383.6 866.44h9v9h-9ZM385.95 869.02h9v9h-9ZM388.3 872.33h9v9h-9ZM390.65 870.45h9v9h-9ZM393 870.49h9v9h-9ZM395.35 874.45h9v9h-9ZM397.7 874.28h9v9h-9ZM400.05 872.87h9v9h-9ZM402.4 874.51h9v9h-9ZM404.75 873.18h9v9h-9ZM407.1 868.52h9v9h-9ZM409.45 868.77h9v9h-9ZM411.8 868.84h9v9h-9ZM414.15 864.91h9v9h-9ZM416.5 865.53h9v9h-9ZM418.85 868.42h9v9h-9ZM421.2 866.95h9v9h-9ZM423.55 866.84h9v9h-9ZM425.9 870.44h9v9h-9ZM428.25 870.4h9v9h-9ZM430.6 869.27h9v9h-9ZM432.95 873.16h9v9h-9ZM435.3 874.89h9v9h-9ZM437.65 873.82h9v9h-9ZM440 877.6h9v9h-9ZM442.35 881.19h9v9h-9ZM444.7 878.98h9v9h-9ZM447.05 879.65h9v9h-9ZM449.4 882.26h9v9h-9ZM451.75 879.93h9v9h-9ZM454.1 879.02h9v9h-9ZM456.45 882.33h9v9h-9ZM458.8 881.74h9v9h-9ZM461.15 880.12h9v9h-9ZM463.5 883.29h9v9h-9ZM465.85 883.9h9v9h-9ZM468.2 880.82h9v9h-9ZM470.55 881.65h9v9h-9ZM472.9 882.49h9v9h-9ZM475.25 878.92h9v9h-9ZM477.6 878.9h9v9h-9ZM479.95 881.61h9v9h-9ZM482.3 880.78h9v9h-9ZM484.65 881.03h9v9h-9ZM487 885.1h9v9h-9ZM489.35 884.88h9v9h-9ZM491.7 883.04h9v9h-9ZM494.05 885.1h9v9h-9ZM496.4 885.28h9v9h-9ZM498.75 882.37h9v9h-9ZM501.1 884.26h9v9h-9ZM503.45 887.15h9v9h-9ZM505.8 885.48h9v9h-9ZM508.15 886.46h9v9h-9ZM510.5 889.68h9v9h-9ZM512.85 887.26h9v9h-9ZM515.2 884.76h9v9h-9ZM517.55 886.83h9v9h-9ZM519.9 885.48h9v9h-9ZM522.25 882.81h9v9h-9ZM524.6 885.18h9v9h-9ZM526.95 887.31h9v9h-9ZM529.3 885.48h9v9h-9ZM531.65 887.7h9v9h-9ZM534 890.19h9v9h-9ZM536.35 887.68h9v9h-9ZM538.7 888.33h9v9h-9ZM541.05 892.12h9v9h-9Z" fill="#000"/>
</g>
<line x1="115.5" y1="796.7" x2="547.8" y2="796.7" stroke="#2a2a2a" stroke-width="2"/>
<line x1="115.5" y1="1144" x2="547.8" y2="1144" stroke="#4a3c3c" stroke-width="1.8"/>
<line x1="115.5" y1="795.7" x2="115.5" y2="1145" stroke="#6b5d5e" stroke-width="1.2"/>
<line x1="547.8" y1="795.7" x2="547.8" y2="1145" stroke="#2a2a2a" stroke-width="2"/>
<line x1="115.1" y1="1144" x2="115.1" y2="1151" stroke="#2a2a2a" stroke-width="1.6"/>
<line x1="115.1" y1="796.7" x2="115.1" y2="802.7" stroke="#2a2a2a" stroke-width="1.6"/>
<line x1="158.35" y1="1144" x2="158.35" y2="1147.8" stroke="#2a2a2a" stroke-width="1.6"/>
<line x1="158.35" y1="796.7" x2="158.35" y2="801.2" stroke="#2a2a2a" stroke-width="1.6"/>
<line x1="201.6" y1="1144" x2="201.6" y2="1151" stroke="#2a2a2a" stroke-width="1.6"/>
<line x1="201.6" y1="796.7" x2="201.6" y2="802.7" stroke="#2a2a2a" stroke-width="1.6"/>
<line x1="244.85" y1="1144" x2="244.85" y2="1147.8" stroke="#2a2a2a" stroke-width="1.6"/>
<line x1="244.85" y1="796.7" x2="244.85" y2="801.2" stroke="#2a2a2a" stroke-width="1.6"/>
<line x1="288.1" y1="1144" x2="288.1" y2="1151" stroke="#2a2a2a" stroke-width="1.6"/>
<line x1="288.1" y1="796.7" x2="288.1" y2="802.7" stroke="#2a2a2a" stroke-width="1.6"/>
<line x1="331.35" y1="1144" x2="331.35" y2="1147.8" stroke="#2a2a2a" stroke-width="1.6"/>
<line x1="331.35" y1="796.7" x2="331.35" y2="801.2" stroke="#2a2a2a" stroke-width="1.6"/>
<line x1="374.6" y1="1144" x2="374.6" y2="1151" stroke="#2a2a2a" stroke-width="1.6"/>
<line x1="374.6" y1="796.7" x2="374.6" y2="802.7" stroke="#2a2a2a" stroke-width="1.6"/>
<line x1="417.85" y1="1144" x2="417.85" y2="1147.8" stroke="#2a2a2a" stroke-width="1.6"/>
<line x1="417.85" y1="796.7" x2="417.85" y2="801.2" stroke="#2a2a2a" stroke-width="1.6"/>
<line x1="461.1" y1="1144" x2="461.1" y2="1151" stroke="#2a2a2a" stroke-width="1.6"/>
<line x1="461.1" y1="796.7" x2="461.1" y2="802.7" stroke="#2a2a2a" stroke-width="1.6"/>
<line x1="504.35" y1="1144" x2="504.35" y2="1147.8" stroke="#2a2a2a" stroke-width="1.6"/>
<line x1="504.35" y1="796.7" x2="504.35" y2="801.2" stroke="#2a2a2a" stroke-width="1.6"/>
<line x1="547.6" y1="1144" x2="547.6" y2="1151" stroke="#2a2a2a" stroke-width="1.6"/>
<line x1="547.6" y1="796.7" x2="547.6" y2="802.7" stroke="#2a2a2a" stroke-width="1.6"/>
<line x1="115.5" y1="1136.1" x2="108.5" y2="1136.1" stroke="#2a2a2a" stroke-width="1.5"/>
<line x1="115.5" y1="1098.31" x2="111.7" y2="1098.31" stroke="#2a2a2a" stroke-width="1.5"/>
<line x1="115.5" y1="1060.52" x2="108.5" y2="1060.52" stroke="#2a2a2a" stroke-width="1.5"/>
<line x1="115.5" y1="1022.73" x2="111.7" y2="1022.73" stroke="#2a2a2a" stroke-width="1.5"/>
<line x1="115.5" y1="984.94" x2="108.5" y2="984.94" stroke="#2a2a2a" stroke-width="1.5"/>
<line x1="115.5" y1="947.15" x2="111.7" y2="947.15" stroke="#2a2a2a" stroke-width="1.5"/>
<line x1="115.5" y1="909.36" x2="108.5" y2="909.36" stroke="#2a2a2a" stroke-width="1.5"/>
<line x1="115.5" y1="871.57" x2="111.7" y2="871.57" stroke="#2a2a2a" stroke-width="1.5"/>
<line x1="115.5" y1="833.78" x2="108.5" y2="833.78" stroke="#2a2a2a" stroke-width="1.5"/>
<line x1="547.8" y1="1144" x2="540.8" y2="1144" stroke="#2a2a2a" stroke-width="1.5"/>
<line x1="547.8" y1="1109.3" x2="544.3" y2="1109.3" stroke="#2a2a2a" stroke-width="1.5"/>
<line x1="547.8" y1="1074.6" x2="540.8" y2="1074.6" stroke="#2a2a2a" stroke-width="1.5"/>
<line x1="547.8" y1="1039.9" x2="544.3" y2="1039.9" stroke="#2a2a2a" stroke-width="1.5"/>
<line x1="547.8" y1="1005.2" x2="540.8" y2="1005.2" stroke="#2a2a2a" stroke-width="1.5"/>
<line x1="547.8" y1="970.5" x2="544.3" y2="970.5" stroke="#2a2a2a" stroke-width="1.5"/>
<line x1="547.8" y1="935.8" x2="540.8" y2="935.8" stroke="#2a2a2a" stroke-width="1.5"/>
<line x1="547.8" y1="901.1" x2="544.3" y2="901.1" stroke="#2a2a2a" stroke-width="1.5"/>
<line x1="547.8" y1="866.4" x2="540.8" y2="866.4" stroke="#2a2a2a" stroke-width="1.5"/>
<line x1="547.8" y1="831.7" x2="544.3" y2="831.7" stroke="#2a2a2a" stroke-width="1.5"/>
<text transform="translate(46.75,1144.7) scale(0.9887,1)" font-family='"Liberation Sans", sans-serif' font-size="29.94" fill="#000">0.00</text>
<text transform="translate(46.74,1069.12) scale(0.9945,1)" font-family='"Liberation Sans", sans-serif' font-size="29.94" fill="#000">0.02</text>
<text transform="translate(46.75,993.54) scale(0.9834,1)" font-family='"Liberation Sans", sans-serif' font-size="29.94" fill="#000">0.04</text>
<text transform="translate(46.74,917.96) scale(0.9913,1)" font-family='"Liberation Sans", sans-serif' font-size="29.94" fill="#000">0.06</text>
<text transform="translate(46.74,842.38) scale(0.9908,1)" font-family='"Liberation Sans", sans-serif' font-size="29.94" fill="#000">0.08</text>
<text transform="translate(101.84,1177.51) scale(1.0739,1)" font-family='"Liberation Sans", sans-serif' font-size="28.81" fill="#000">-2</text>
<text transform="translate(194.28,1177.51) scale(0.9511,1)" font-family='"Liberation Sans", sans-serif' font-size="28.81" fill="#000">0</text>
<text transform="translate(279.56,1177.51) scale(1.1036,1)" font-family='"Liberation Sans", sans-serif' font-size="28.81" fill="#000">2</text>
<text transform="translate(366.99,1177.51) scale(0.9985,1)" font-family='"Liberation Sans", sans-serif' font-size="28.81" fill="#000">4</text>
<text transform="translate(452.55,1177.51) scale(1.0916,1)" font-family='"Liberation Sans", sans-serif' font-size="28.81" fill="#000">6</text>
<text transform="translate(539.32,1177.51) scale(1.0707,1)" font-family='"Liberation Sans", sans-serif' font-size="28.81" fill="#000">8</text>
<text transform="translate(293.93,1218.7) scale(0.9859,1)" font-family='"Liberation Sans", sans-serif' font-size="30.81" fill="#000">Time (s)</text>
<text transform="translate(28.3,1110.09) rotate(-90) scale(0.9668,1)" font-family='"Liberation Sans", sans-serif' font-size="30.3" fill="#000">Compliance (Pa</text>
<text transform="translate(13,900.3) rotate(-90) scale(0.9229,1)" font-family='"Liberation Sans", sans-serif' font-size="17.15" fill="#000">-1</text>
<text transform="translate(28.44,882.26) rotate(-90) scale(0.8730,1)" font-family='"Liberation Sans", sans-serif' font-size="30.26" fill="#000">)</text>
<rect x="769.1" y="1139.1" width="15.67" height="16.7" fill="#bcbdc1"/>
<rect x="804.04" y="1139.1" width="15.67" height="16.7" fill="#bcbdc1"/>
<rect x="821.51" y="1139.1" width="15.67" height="16.7" fill="#bcbdc1"/>
<rect x="838.98" y="1139.1" width="15.67" height="16.7" fill="#bcbdc1"/>
<rect x="856.45" y="1024.8" width="15.67" height="131" fill="#bcbdc1"/>
<rect x="873.92" y="1006.8" width="15.67" height="149" fill="#bcbdc1"/>
<rect x="891.39" y="930.4" width="15.67" height="225.4" fill="#bcbdc1"/>
<rect x="908.86" y="854.8" width="15.67" height="301" fill="#bcbdc1"/>
<rect x="926.33" y="892.9" width="15.67" height="262.9" fill="#bcbdc1"/>
<rect x="943.8" y="949.3" width="15.67" height="206.5" fill="#bcbdc1"/>
<rect x="961.27" y="1082.3" width="15.67" height="73.5" fill="#bcbdc1"/>
<rect x="978.74" y="1063.2" width="15.67" height="92.6" fill="#bcbdc1"/>
<rect x="996.21" y="1101.2" width="15.67" height="54.6" fill="#bcbdc1"/>
<rect x="1013.68" y="1139.1" width="15.67" height="16.7" fill="#bcbdc1"/>
<rect x="1031.15" y="1139.1" width="15.67" height="16.7" fill="#bcbdc1"/>
<rect x="1101.03" y="1139.1" width="15.67" height="16.7" fill="#bcbdc1"/>
<line x1="738.1" y1="778.4" x2="1171.7" y2="778.4" stroke="#3c3c3c" stroke-width="2"/>
<line x1="738.1" y1="1157.1" x2="1171.7" y2="1157.1" stroke="#333" stroke-width="1.4"/>
<line x1="738.1" y1="777.4" x2="738.1" y2="1157.8" stroke="#4e5ea8" stroke-width="2"/>
<line x1="1171.7" y1="777.4" x2="1171.7" y2="1158.1" stroke="#5b5f80" stroke-width="1.6"/>
<line x1="846.1" y1="778.4" x2="846.1" y2="783.4" stroke="#444" stroke-width="1.2"/>
<line x1="846.1" y1="1157.1" x2="846.1" y2="1152.1" stroke="#444" stroke-width="1.2"/>
<line x1="954.6" y1="778.4" x2="954.6" y2="783.4" stroke="#444" stroke-width="1.2"/>
<line x1="954.6" y1="1157.1" x2="954.6" y2="1152.1" stroke="#444" stroke-width="1.2"/>
<line x1="1063.1" y1="778.4" x2="1063.1" y2="783.4" stroke="#444" stroke-width="1.2"/>
<line x1="1063.1" y1="1157.1" x2="1063.1" y2="1152.1" stroke="#444" stroke-width="1.2"/>
<line x1="738.1" y1="967.5" x2="743.1" y2="967.5" stroke="#444" stroke-width="1.2"/>
<line x1="1171.7" y1="967.5" x2="1166.7" y2="967.5" stroke="#444" stroke-width="1.2"/>
<path d="M772 1154.64 L774 1154.33 L776 1153.98 L778 1153.6 L780 1153.17 L782 1152.7 L784 1152.18 L786 1151.61 L788 1150.98 L790 1150.29 L792 1149.53 L794 1148.71 L796 1147.81 L798 1146.83 L800 1145.76 L802 1144.6 L804 1143.35 L806 1141.99 L808 1140.53 L810 1138.96 L812 1137.26 L814 1135.45 L816 1133.5 L818 1131.42 L820 1129.21 L822 1126.85 L824 1124.34 L826 1121.69 L828 1118.87 L830 1115.9 L832 1112.78 L834 1109.49 L836 1106.03 L838 1102.42 L840 1098.64 L842 1094.7 L844 1090.6 L846 1086.35 L848 1081.95 L850 1077.39 L852 1072.7 L854 1067.88 L856 1062.93 L858 1057.86 L860 1052.69 L862 1047.42 L864 1042.08 L866 1036.66 L868 1031.19 L870 1025.69 L872 1020.16 L874 1014.63 L876 1009.11 L878 1003.63 L880 998.19 L882 992.83 L884 987.55 L886 982.39 L888 977.36 L890 972.47 L892 967.76 L894 963.24 L896 958.93 L898 954.84 L900 951.01 L902 947.43 L904 944.13 L906 941.13 L908 938.44 L910 936.06 L912 934.02 L914 932.32 L916 930.96 L918 929.97 L920 929.33 L922 929.06 L924 929.15 L926 929.6 L928 930.42 L930 931.6 L932 933.12 L934 935 L936 937.21 L938 939.74 L940 942.59 L942 945.75 L944 949.18 L946 952.89 L948 956.86 L950 961.06 L952 965.48 L954 970.1 L956 974.89 L958 979.85 L960 984.96 L962 990.18 L964 995.5 L966 1000.9 L968 1006.36 L970 1011.87 L972 1017.39 L974 1022.93 L976 1028.44 L978 1033.93 L980 1039.38 L982 1044.76 L984 1050.07 L986 1055.29 L988 1060.41 L990 1065.42 L992 1070.31 L994 1075.07 L996 1079.69 L998 1084.17 L1000 1088.5 L1002 1092.67 L1004 1096.69 L1006 1100.55 L1008 1104.25 L1010 1107.78 L1012 1111.15 L1014 1114.36 L1016 1117.41 L1018 1120.3 L1020 1123.03 L1022 1125.61 L1024 1128.05 L1026 1130.33 L1028 1132.48 L1030 1134.49 L1032 1136.37 L1034 1138.12 L1036 1139.76 L1038 1141.28 L1040 1142.68 L1042 1143.99 L1044 1145.19 L1046 1146.3 L1048 1147.33 L1050 1148.27 L1052 1149.13 L1054 1149.92 L1056 1150.64 L1058 1151.3 L1060 1151.9 L1062 1152.45 L1064 1152.94 L1066 1153.39 L1068 1153.79 L1070 1154.16 L1072 1154.49" fill="none" stroke="#000" stroke-width="2.3" stroke-linejoin="round"/>
<path d="M773.1 1153.7 L774.9 1153.53 L777.43 1153.29 L780.6 1152.99 L784.3 1152.6 L788.95 1152.13 L794.45 1151.59 L799.95 1150.97 L804.6 1150.3 L807.83 1149.55 L810.21 1148.72 L812.58 1147.86 L815.8 1147 L820.43 1146.16 L825.9 1145.31 L831.37 1144.45 L836 1143.6 L839.48 1143 L842.29 1142.56 L844.75 1141.8 L847.2 1140.2 L849.65 1137.4 L851.96 1133.74 L854.19 1129.81 L856.4 1126.2 L858.64 1123.09 L860.86 1120.16 L863 1117.22 L865 1114.1 L866.75 1110.67 L868.31 1107.06 L869.87 1103.44 L871.6 1100 L873.66 1096.88 L875.92 1093.96 L878.12 1091 L880 1087.8 L881.41 1084.18 L882.52 1080.3 L883.54 1076.42 L884.7 1072.8 L886.06 1069.64 L887.49 1066.76 L888.96 1063.85 L890.4 1060.6 L891.81 1056.8 L893.21 1052.66 L894.6 1048.49 L896 1044.6 L897.44 1041.17 L898.91 1037.99 L900.33 1034.85 L901.6 1031.5 L902.66 1027.82 L903.56 1023.95 L904.43 1020.08 L905.4 1016.4 L906.56 1013.03 L907.81 1009.84 L909.04 1006.66 L910.1 1003.3 L910.89 999.66 L911.5 995.86 L912.11 992.03 L912.9 988.3 L913.94 984.73 L915.13 981.25 L916.38 977.77 L917.6 974.2 L918.77 970.47 L919.95 966.64 L921.13 962.84 L922.3 959.2 L923.47 955.82 L924.65 952.6 L925.82 949.38 L927 946 L928.15 942.33 L929.29 938.5 L930.46 934.67 L931.7 931 L933.01 927.68 L934.38 924.58 L935.81 921.38 L937.3 917.8 L938.81 913.62 L940.36 909.04 L942.03 904.4 L943.9 900 L946.12 895.8 L948.59 891.68 L951.07 887.84 L953.3 884.5 L955.11 881.79 L956.67 879.56 L958.23 877.63 L960 875.8 L962.06 874.26 L964.29 873.02 L966.62 871.66 L969 869.7 L971.42 866.82 L973.92 863.33 L976.48 859.75 L979.1 856.6 L981.78 854.06 L984.53 851.83 L987.33 849.74 L990.2 847.6 L993.08 845.26 L996 842.86 L999.04 840.62 L1002.3 838.8 L1005.89 837.52 L1009.72 836.62 L1013.62 835.95 L1017.4 835.3 L1020.97 834.69 L1024.45 834.19 L1027.93 833.74 L1031.5 833.3 L1035.2 832.82 L1038.99 832.34 L1042.8 831.91 L1046.6 831.6 L1050.38 831.44 L1054.15 831.4 L1057.92 831.41 L1061.7 831.4 L1065.48 831.39 L1069.25 831.4 L1073.03 831.39 L1076.8 831.3 L1080.61 831.15 L1084.44 830.96 L1088.22 830.69 L1091.9 830.3 L1095.74 829.68 L1099.69 828.89 L1103.17 828.12 L1105.6 827.6" fill="none" stroke="#000" stroke-width="2.3" stroke-dasharray="14.00 16.17" stroke-linejoin="round"/>
<text transform="translate(709.34,789.61) scale(0.7962,1)" font-family='"Liberation Sans", sans-serif' font-size="29.1" fill="#000">20</text>
<text transform="translate(709.37,977.7) scale(0.8001,1)" font-family='"Liberation Sans", sans-serif' font-size="30.08" fill="#000">10</text>
<text transform="translate(722.7,1168.32) scale(0.9109,1)" font-family='"Liberation Sans", sans-serif' font-size="28.25" fill="#000">0</text>
<text transform="translate(716.34,1187.11) scale(0.8129,1)" font-family='"Liberation Sans", sans-serif' font-size="28.53" fill="#000">1.34</text>
<text transform="translate(824.08,1187.11) scale(0.8407,1)" font-family='"Liberation Sans", sans-serif' font-size="28.53" fill="#000">1.36</text>
<text transform="translate(932.58,1187.11) scale(0.8403,1)" font-family='"Liberation Sans", sans-serif' font-size="28.53" fill="#000">1.38</text>
<text transform="translate(1047.97,1187.11) scale(0.7992,1)" font-family='"Liberation Sans", sans-serif' font-size="28.53" fill="#000">1.4</text>
<text transform="translate(1148.67,1187.11) scale(0.8435,1)" font-family='"Liberation Sans", sans-serif' font-size="28.53" fill="#000">1.42</text>
<text transform="translate(869.94,1212.1) scale(0.9750,1)" font-family='"Liberation Sans", sans-serif' font-size="24.56" fill="#000">Refractive index</text>
<text transform="translate(701.5,1106.18) rotate(-90) scale(1.2300,1)" font-family='"Liberation Sans", sans-serif' font-size="30.5" fill="#000">Number of cells</text>
</svg>
</body></html>
